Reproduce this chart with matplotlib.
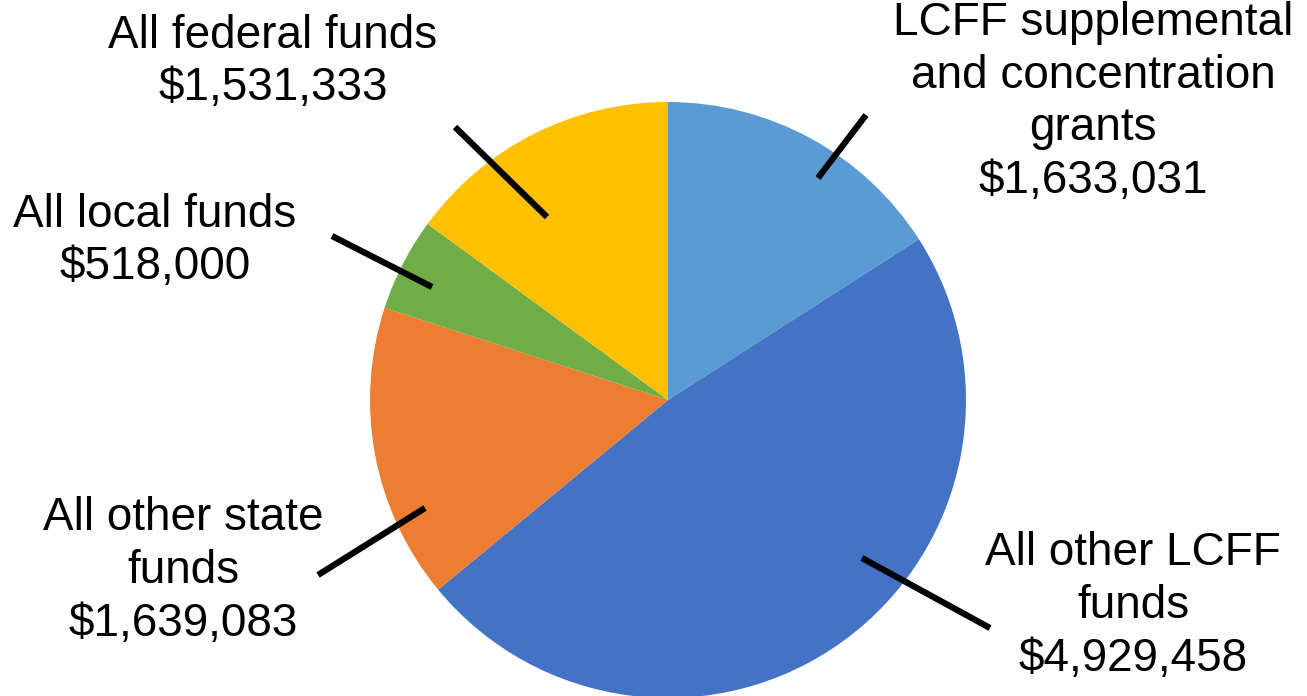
import matplotlib.pyplot as plt

plt.rcParams['font.family'] = ['Liberation Sans', 'DejaVu Sans']

categories = ["LCFF supplemental\nand concentration\ngrants", "All other LCFF\nfunds",
              "All other state\nfunds", "All local funds", "All federal funds"]
values = [1633031, 4929458, 1639083, 518000, 1531333]
colors = ["#5B9BD5", "#4472C4", "#ED7D31", "#70AD47", "#FFC000"]

W, H = 1307, 696
fig = plt.figure(figsize=(W / 100, H / 100), dpi=100)
ax = fig.add_axes([0, 0, 1, 1])

cx, cy, r = 668, H - 400, 298
ax.pie(values, colors=colors, startangle=90, counterclock=False,
       center=(cx, cy), radius=r, wedgeprops=dict(linewidth=0), frame=True)
ax.set_xlim(0, W)
ax.set_ylim(0, H)
ax.set_aspect('equal')
ax.axis('off')

# label text centre (pixel), leader line start (inside wedge), leader line end
label_layout = [
    ((1093, 102), (818, 178), (866, 115)),
    ((1133, 606), (862, 558), (990, 628)),
    ((183, 571), (425, 508), (318, 575)),
    ((155, 241), (432, 287), (332, 236)),
    ((273, 62), (547, 217), (455, 127)),
]

for cat, val, (txt, p0, p1) in zip(categories, values, label_layout):
    ax.plot([p0[0], p1[0]], [H - p0[1], H - p1[1]], color="black", lw=4.5,
            solid_capstyle='butt')
    ax.text(txt[0], H - txt[1], f"{cat}\n${val:,}", ha="center", va="center",
            multialignment="center", fontsize=33, color="black", linespacing=1.26)

fig.savefig("out.png", dpi=100)
